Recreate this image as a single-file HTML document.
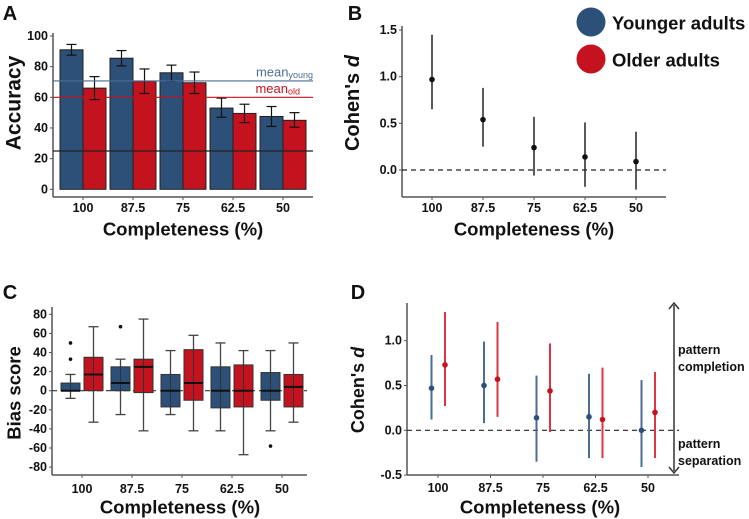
<!DOCTYPE html>
<html><head><meta charset="utf-8"><style>
body{margin:0;background:#fff}
svg{display:block;font-family:"Liberation Sans",sans-serif;font-weight:bold}
</style></head><body>
<svg id="s" width="749" height="519" viewBox="0 0 749 519"></svg>
<script>
const cats=["100","87.5","75","62.5","50"];
// Panel A
const accYoung=[91,85.5,76,53,47.5];
const accYoungLo=[87.5,80.5,70.5,47,41];
const accYoungHi=[94.5,90.5,81,59.5,54];
const accOld=[66,70.5,69.5,49.5,45];
const accOldLo=[58.5,62.5,62.5,43.5,40.5];
const accOldHi=[73.5,78.5,76.5,55.5,50];
const meanYoung=70.7, meanOld=60, chance=25;
const accTicks=[0,20,40,60,80,100];
// Panel B
const dB=[0.97,0.54,0.24,0.14,0.09];
const dBLo=[0.65,0.25,-0.06,-0.18,-0.21];
const dBHi=[1.45,0.88,0.57,0.51,0.41];
const bTicks=[0,0.5,1,1.5];
// Panel C: [lowWhisker,q1,median,q3,highWhisker]
const boxYoung=[[-8,0,0,8,17],[-25,0,8,25,33],[-25,-17,0,17,42],[-42,-18,0,25,50],[-42,-10,0,19,42]];
const boxOld=[[-33,0,17,35,67],[-42,-2,25,33,75],[-42,-10,8,43,58],[-67,-17,0,27,42],[-33,-17,4,17,50]];
const outYoung=[[33,50],[67],[],[],[-58]];
const outOld=[[],[],[],[],[]];
const cTicks=[-80,-60,-40,-20,0,20,40,60,80];
// Panel D
const dYoung=[0.47,0.50,0.14,0.15,0.0];
const dYoungLo=[0.12,0.08,-0.35,-0.31,-0.41];
const dYoungHi=[0.84,0.99,0.61,0.63,0.56];
const dOld=[0.73,0.57,0.44,0.12,0.20];
const dOldLo=[0.27,0.15,-0.02,-0.31,-0.31];
const dOldHi=[1.32,1.21,0.97,0.70,0.65];
const dTicks=[-0.5,0,0.5,1];

const BLUE="#2c5078",RED="#c4121f",BLUEL="#4b6d98",REDL="#de3444";
const s=document.getElementById('s');
function el(t,a,txt){const e=document.createElementNS("http://www.w3.org/2000/svg",t);for(const k in a)e.setAttribute(k,a[k]);if(txt!==undefined)e.textContent=txt;s.appendChild(e);return e;}
function line(x1,y1,x2,y2,c,w,name,dash){const e=el('line',{x1,y1,x2,y2,stroke:c,'stroke-width':w});if(dash)e.setAttribute('stroke-dasharray',dash);

return e;}
function text(x,y,t,size,name,anchor,extra){const e=el('text',Object.assign({x,y,'font-size':size,'text-anchor':anchor||'middle','dominant-baseline':'central',fill:'#111'},extra||{}),t);

return e;}
function axes(x0,x1,yTop,yBot,ticks,yf,fmt,tickY,xc,prefix){
 line(x0,yTop,x0,yBot,'#555',1.5,prefix+'-y-axis');
 line(x0,yBot,x1,yBot,'#555',1.5,prefix+'-x-axis');
 ticks.forEach(t=>{line(x0-3,yf(t),x0,yf(t),'#555',1,prefix+'-y-tick');text(x0-5,yf(t),fmt(t),12.5,prefix+'-y-tick-label','end');});
 cats.forEach((c,i)=>{line(xc(i),yBot,xc(i),yBot+3,'#555',1,prefix+'-x-tick');text(xc(i),tickY,c,12.5,prefix+'-x-tick-label');});
}
// ---- A
{const yf=v=>189.3-v*1.533, xc=i=>83+i*50;
 axes(53,313,33,197,accTicks,yf,t=>t,208,xc,'a');
 cats.forEach((c,i)=>{
  [[accYoung,accYoungLo,accYoungHi,BLUE,-23,'young'],[accOld,accOldLo,accOldHi,RED,0,'old']].forEach(([v,lo,hi,col,off,g])=>{
   const r=el('rect',{x:xc(i)+off,y:yf(v[i]),width:23,height:yf(0)-yf(v[i]),fill:col,stroke:'#222','stroke-width':1});
   
   
   const cx=xc(i)+off+11.5;
   line(cx,yf(lo[i]),cx,yf(hi[i]),'#111',1.2,'error-bar');
   line(cx-5,yf(lo[i]),cx+5,yf(lo[i]),'#111',1.2,'error-cap');
   line(cx-5,yf(hi[i]),cx+5,yf(hi[i]),'#111',1.2,'error-cap');
  });
 });
 line(53,yf(meanYoung),313,yf(meanYoung),BLUEL,1.2,'mean-young-line');
 line(53,yf(meanOld),313,yf(meanOld),RED,1.2,'mean-old-line');
 line(53,yf(chance),313,yf(chance),'#222',1.3,'chance-line');
 const my=text(313,yf(meanYoung)-9,'mean',13,'mean-young-label','end',{fill:BLUEL,'font-weight':'normal'});
 my.appendChild(el('tspan',{'font-size':9,dy:3},'young'));
 const mo=text(300,yf(meanOld)-9,'mean',13,'mean-old-label','end',{fill:RED,'font-weight':'normal'});
 mo.appendChild(el('tspan',{'font-size':9,dy:3},'old'));
 text(183,229,'Completeness (%)',18.5,'a-x-title');
 text(14,103,'Accuracy',21,'a-y-title','middle',{transform:'rotate(-90 14 103)'});
 text(10,14,'A',20,'panel-a-label');
}
// ---- B
{const yf=v=>170-v*93.3, xc=i=>432+i*51;
 axes(402,666,26,197,bTicks,yf,t=>t.toFixed(1),208,xc,'b');
 line(402,yf(0),666,yf(0),'#222',1.2,'b-zero-line','5,4');
 cats.forEach((c,i)=>{
  line(xc(i),yf(dBLo[i]),xc(i),yf(dBHi[i]),'#222',1.5,'b-ci-'+c);
  const p=el('circle',{cx:xc(i),cy:yf(dB[i]),r:2.8,fill:'#111'});
  
  
 });
 text(534,229,'Completeness (%)',18.5,'b-x-title');
 const t=text(353,103,"Cohen's ",20,'b-y-title','middle',{transform:'rotate(-90 353 103)'});
 t.appendChild(el('tspan',{'font-style':'italic'},'d'));
 text(355,14,'B',20,'panel-b-label');
 const c1=el('circle',{cx:591,cy:22,r:14.5,fill:BLUE});
 const c2=el('circle',{cx:591,cy:59,r:14.5,fill:RED});
 text(612,23,'Younger adults',18.5,'legend-young-label','start');
 text(612,60,'Older adults',18.5,'legend-old-label','start');
}
// ---- C
{const yf=v=>390.7-v*0.955, xc=i=>82+i*50;
 axes(52,307,307,475,cTicks,yf,t=>t,489,xc,'c');
 line(52,yf(0),307,yf(0),'#333',1.2,'c-zero-line','5,4');
 cats.forEach((c,i)=>{
  [[boxYoung,outYoung,BLUE,-11.5,'young'],[boxOld,outOld,RED,11.5,'old']].forEach(([b,o,col,off,g])=>{
   const q=b[i],cx=xc(i)+off;
   line(cx,yf(q[0]),cx,yf(q[4]),'#444',1.3,'c-whisker-'+g);
   line(cx-5,yf(q[0]),cx+5,yf(q[0]),'#444',1.3,'c-whisker-cap');
   line(cx-5,yf(q[4]),cx+5,yf(q[4]),'#444',1.3,'c-whisker-cap');
   const r=el('rect',{x:cx-9.5,y:yf(q[3]),width:19,height:yf(q[1])-yf(q[3]),fill:col,stroke:'#333','stroke-width':1});
   
   
   line(cx,yf(q[1]),cx,yf(q[3]),'#333',1,'c-box-inner-whisker');
   line(cx-9.5,yf(q[2]),cx+9.5,yf(q[2]),'#111',2,'c-median-'+g);
   o[i].forEach(v=>{const p=el('circle',{cx:cx,cy:yf(v),r:1.8,fill:'#111'});
    
    });
  });
 });
 text(180,507,'Completeness (%)',18.5,'c-x-title');
 text(14,393,'Bias score',18.5,'c-y-title','middle',{transform:'rotate(-90 14 393)'});
 text(10,293,'C',20,'panel-c-label');
}
// ---- D
{const yf=v=>430.3-v*89.6, xc=i=>438+i*52.5;
 axes(407,679,303,475,dTicks,yf,t=>t.toFixed(1),488,xc,'d');
 line(407,yf(0),679,yf(0),'#222',1.2,'d-zero-line','5,4');
 cats.forEach((c,i)=>{
  [[dYoung,dYoungLo,dYoungHi,BLUEL,BLUE,-6.5,'young'],[dOld,dOldLo,dOldHi,REDL,RED,7,'old']].forEach(([v,lo,hi,lc,pc,off,g])=>{
   const cx=xc(i)+off;
   line(cx,yf(lo[i]),cx,yf(hi[i]),lc,2,'d-ci-'+g+'-'+c);
   const p=el('circle',{cx:cx,cy:yf(v[i]),r:2.8,fill:pc});
   
   
  });
 });
 line(674,305,674,471,'#333',1.5,'direction-arrow');
 const ah=el('path',{d:'M669,309 L674,303 L679,309 M669,467 L674,473 L679,467',stroke:'#333','stroke-width':1.5,fill:'none'});
 
 text(678,350,'pattern',12.5,'pattern-completion-label','start');
 text(678,367,'completion',12.5,'pattern-completion-label-2','start');
 text(678,444,'pattern',12.5,'pattern-separation-label','start');
 text(678,461,'separation',12.5,'pattern-separation-label-2','start');
 text(540,507,'Completeness (%)',18.5,'d-x-title');
 const t=text(358,390,"Cohen's ",18,'d-y-title','middle',{transform:'rotate(-90 358 390)'});
 t.appendChild(el('tspan',{'font-style':'italic'},'d'));
 text(358,293,'D',20,'panel-d-label');
}
</script>
</body></html>
